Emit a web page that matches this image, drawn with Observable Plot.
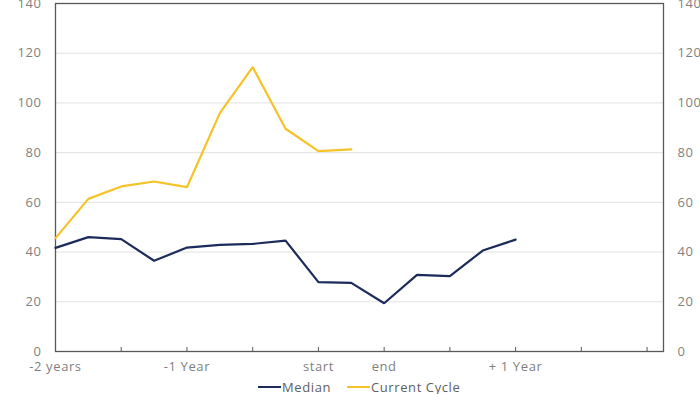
<!DOCTYPE html>
<html>
<head>
<meta charset="utf-8">
<script src="https://cdn.jsdelivr.net/npm/d3@7"></script>
<script src="https://cdn.jsdelivr.net/npm/@observablehq/plot@0.6"></script>
<style>
  html, body { margin: 0; padding: 0; background: #fff; }
  body { width: 700px; height: 394px; overflow: hidden; font-family: "Open Sans", sans-serif; }
  #legend { position: relative; height: 14px; font-size: 13px; letter-spacing: 0.6px; color: #606060; }
  .item { position: absolute; top: 0; display: flex; align-items: center; white-space: nowrap; line-height: 14px; }
  .sw { display: inline-block; width: 23px; height: 2px; margin-right: 1px; }
</style>
</head>
<body>
<div id="chart"></div>
<div id="legend"></div>
<script>
// ---- data ----
const xLabels = ["-2 years", "-1 Year", "start", "end", "+ 1 Year"];
const xLabelPos = [0, 4, 8, 10, 14];
const xTickPos = [2, 4, 6, 8, 10, 12, 14, 16, 18];
const yTicks = [0, 20, 40, 60, 80, 100, 120, 140];
const gridVals = [20, 40, 60, 80, 100, 120];
const seriesNames = ["Median", "Current Cycle"];
const seriesColors = ["#1c2b5c", "#f5c228"];
const median = [41.7, 46.0, 45.2, 36.5, 41.8, 42.9, 43.3, 44.6, 27.9, 27.6, 19.4, 30.8, 30.3, 40.6, 45.0];
const current = [45.6, 61.4, 66.4, 68.4, 66.1, 95.9, 114.4, 89.6, 80.6, 81.3];

const rows = [
  ...median.map((v, i) => ({i, v, s: seriesNames[0]})),
  ...current.map((v, i) => ({i, v, s: seriesNames[1]}))
];

const chart = Plot.plot({
  width: 700,
  height: 380,
  marginTop: 3,
  marginBottom: 29,
  marginLeft: 55,
  marginRight: 37,
  style: {fontFamily: "Open Sans", fontSize: "13px", letterSpacing: "0.6px", background: "#fff"},
  x: {domain: [0, 18.5], axis: null},
  y: {domain: [0, 140], axis: null},
  color: {domain: seriesNames, range: seriesColors},
  marks: [
    Plot.ruleY(gridVals, {stroke: "#e2e2e2", strokeWidth: 1}),
    Plot.frame({stroke: "#595959", strokeWidth: 1.3}),
    Plot.line(rows, {x: "i", y: "v", z: "s", stroke: "s", strokeWidth: 2.2, strokeLinejoin: "miter"}),
    Plot.axisY(yTicks, {anchor: "left", tickSize: 0, tickPadding: 14, color: "#7f7f7f", label: null}),
    Plot.axisY(yTicks, {anchor: "right", tickSize: 0, tickPadding: 14, color: "#7f7f7f", label: null}),
    Plot.axisX(xTickPos, {anchor: "bottom", tickSize: -4, tickFormat: () => "", stroke: "#595959", label: null}),
    Plot.axisX(xLabelPos, {anchor: "bottom", tickSize: 0, tickPadding: 10, color: "#7f7f7f", label: null,
      tickFormat: d => xLabels[xLabelPos.indexOf(d)]})
  ]
});
document.getElementById("chart").appendChild(chart);

const legend = document.getElementById("legend");
const lefts = [258, 347];
seriesNames.forEach((name, k) => {
  const item = document.createElement("div");
  item.className = "item";
  item.style.left = lefts[k] + "px";
  const sw = document.createElement("span");
  sw.className = "sw";
  sw.style.background = seriesColors[k];
  const tx = document.createElement("span");
  tx.textContent = name;
  item.appendChild(sw);
  item.appendChild(tx);
  legend.appendChild(item);
});
</script>
</body>
</html>
